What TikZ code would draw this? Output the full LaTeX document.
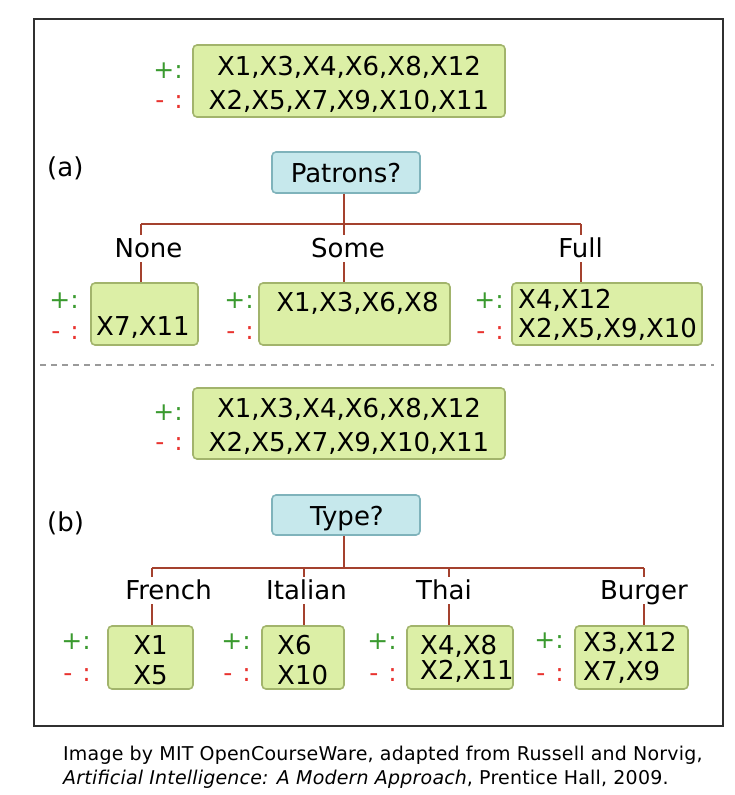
\documentclass[tikz,border=0pt]{standalone}
\usepackage{fontspec}
\setmainfont{DejaVu Sans}
\newfontfamily\captfont[LetterSpace=1]{DejaVu Sans}
\definecolor{boxfill}{HTML}{DCEFA6}
\definecolor{boxborder}{HTML}{A2B46C}
\definecolor{qfill}{HTML}{C6E8EC}
\definecolor{qborder}{HTML}{7FB3BB}
\definecolor{connc}{HTML}{A4412E}
\definecolor{plusc}{HTML}{3A9A2F}
\definecolor{minusc}{HTML}{E8332F}
\definecolor{framec}{HTML}{303030}
\definecolor{dashc}{HTML}{9A9A9A}
\begin{document}
\begin{tikzpicture}[x=1pt,y=-1pt,
  setbox/.style={draw=boxborder, fill=boxfill, line width=1.6pt, rounded corners=4pt, inner sep=0pt},
  qbox/.style={draw=qborder, fill=qfill, line width=1.6pt, rounded corners=4pt, inner sep=0pt},
  txt/.style={inner sep=0pt, font=\fontsize{26}{30}\selectfont},
  lbl/.style={inner sep=0pt, text height=21.5pt, text depth=5pt, font=\fontsize{26}{30}\selectfont},
  plus/.style={inner sep=0pt, anchor=base east, text=plusc, font=\fontsize{25}{28}\selectfont},
  minus/.style={inner sep=0pt, anchor=base east, text=minusc, font=\fontsize{25}{28}\selectfont},
  conn/.style={draw=connc, line width=1.8pt},
  capt/.style={inner sep=0pt, anchor=base west, font=\captfont\fontsize{19}{22}\selectfont}]
\useasboundingbox (0,0) rectangle (734,795);
% frame and separator
\node[draw=framec, line width=2pt, minimum width=689pt, minimum height=707pt, inner sep=0pt] (frame) at (378.5,372.5) {};
\coordinate (dL) at (40,365);
\coordinate (dR) at (714,365);
\draw[dashc, line width=1.5pt, dash pattern=on 6pt off 5pt] (dL) -- (dR);

% ---------------- (a) ----------------
\node[setbox, minimum width=312pt, minimum height=72pt] (rootA) at (349,81) {};
\node[txt, anchor=base] (rootA1) at (349,75) {X1,X3,X4,X6,X8,X12};
\node[txt, anchor=base] (rootA2) at (349,109) {X2,X5,X7,X9,X10,X11};
\node[plus] (rootAp) at (183,78) {+:};
\node[minus] (rootAm) at (183,108) {-\hspace{10pt}:};

\node[txt, anchor=base west] (labA) at (47,176) {(a)};
\node[qbox, minimum width=148pt, minimum height=41pt] (patrons) at (346,172.5) {};
\node[txt, anchor=base] (patronsT) at (346,182) {Patrons?};

\coordinate (cNone) at (141,224);
\coordinate (cSome) at (344,224);
\coordinate (cFull) at (581,224);
\node[lbl, anchor=base] (lNone) at (148.5,257) {None};
\node[lbl, anchor=base] (lSome) at (348,257) {Some};
\node[lbl, anchor=base] (lFull) at (580.5,257) {Full};

\node[setbox, minimum width=107pt, minimum height=62pt] (bNone) at (144.5,314) {};
\node[setbox, minimum width=191pt, minimum height=62pt] (bSome) at (354.5,314) {};
\node[setbox, minimum width=190pt, minimum height=62pt] (bFull) at (607,314) {};

\draw[conn] (patrons.south -| cSome) -- (cSome);
\draw[conn] (cNone) -- (cFull);
\foreach \c/\l/\b in {cNone/lNone/bNone, cSome/lSome/bSome, cFull/lFull/bFull}{
  \draw[conn] (\c) -- (\l.north -| \c);
  \draw[conn] (\l.south -| \c) -- (\b.north -| \c);
}

\node[txt, anchor=base] (tNone) at (143,335) {X7,X11};
\node[plus] (pNone) at (79,308) {+:};
\node[minus] (mNone) at (79,339) {-\hspace{10pt}:};
\node[txt, anchor=base] (tSome) at (357.5,311) {X1,X3,X6,X8};
\node[plus] (pSome) at (254,308) {+:};
\node[minus] (mSome) at (254,339) {-\hspace{10pt}:};
\node[txt, anchor=base west] (tFull1) at (518,308) {X4,X12};
\node[txt, anchor=base west] (tFull2) at (518,337) {X2,X5,X9,X10};
\node[plus] (pFull) at (504,308) {+:};
\node[minus] (mFull) at (504,339) {-\hspace{10pt}:};

% ---------------- (b) ----------------
\node[setbox, minimum width=312pt, minimum height=71pt] (rootB) at (349,423.5) {};
\node[txt, anchor=base] (rootB1) at (349,417) {X1,X3,X4,X6,X8,X12};
\node[txt, anchor=base] (rootB2) at (349,451) {X2,X5,X7,X9,X10,X11};
\node[plus] (rootBp) at (183,420) {+:};
\node[minus] (rootBm) at (183,450) {-\hspace{10pt}:};

\node[txt, anchor=base west] (labB) at (47,531) {(b)};
\node[qbox, minimum width=148pt, minimum height=40pt] (type) at (346,515) {};
\node[txt, anchor=base] (typeT) at (347,525) {Type?};

\coordinate (cFr) at (152,568);
\coordinate (cIt) at (304,568);
\coordinate (cTy) at (344,568);
\coordinate (cTh) at (449,568);
\coordinate (cBu) at (644,568);
\node[lbl, anchor=base] (lFr) at (168.5,599) {French};
\node[lbl, anchor=base] (lIt) at (306.5,599) {Italian};
\node[lbl, anchor=base] (lTh) at (444,599) {Thai};
\node[lbl, anchor=base] (lBu) at (644,599) {Burger};

\node[setbox, minimum width=85pt, minimum height=63pt] (bFr) at (150.5,657.5) {};
\node[setbox, minimum width=82pt, minimum height=63pt] (bIt) at (303,657.5) {};
\node[setbox, minimum width=106pt, minimum height=63pt] (bTh) at (460,657.5) {};
\node[setbox, minimum width=113pt, minimum height=63pt] (bBu) at (631.5,657.5) {};

\draw[conn] (type.south -| cTy) -- (cTy);
\draw[conn] (cFr) -- (cBu);
\foreach \c/\l/\b in {cFr/lFr/bFr, cIt/lIt/bIt, cTh/lTh/bTh, cBu/lBu/bBu}{
  \draw[conn] (\c) -- (\l.north -| \c);
  \draw[conn] (\l.south -| \c) -- (\b.north -| \c);
}

\node[txt, anchor=base] (tFr1) at (150.5,654) {X1};
\node[txt, anchor=base] (tFr2) at (150.5,684) {X5};
\node[plus] (pFr) at (91,649) {+:};
\node[minus] (mFr) at (91,681) {-\hspace{10pt}:};
\node[txt, anchor=base west] (tIt1) at (277,654) {X6};
\node[txt, anchor=base west] (tIt2) at (277,684) {X10};
\node[plus] (pIt) at (251,649) {+:};
\node[minus] (mIt) at (251,681) {-\hspace{10pt}:};
\node[txt, anchor=base west] (tTh1) at (420,654) {X4,X8};
\node[txt, anchor=base west] (tTh2) at (420,679) {X2,X11};
\node[plus] (pTh) at (397,649) {+:};
\node[minus] (mTh) at (397,681) {-\hspace{10pt}:};
\node[txt, anchor=base west] (tBu1) at (583,651) {X3,X12};
\node[txt, anchor=base west] (tBu2) at (583,680) {X7,X9};
\node[plus] (pBu) at (564,648) {+:};
\node[minus] (mBu) at (564,681) {-\hspace{10pt}:};

% caption
\node[capt] (cap1) at (63,760) {Image by MIT OpenCourseWare, adapted from Russell and Norvig,};
\node[capt] (cap2) at (63,784) {\textit{Artificial Intelligence: A Modern Approach}, Prentice Hall, 2009.};
\end{tikzpicture}
\end{document}
